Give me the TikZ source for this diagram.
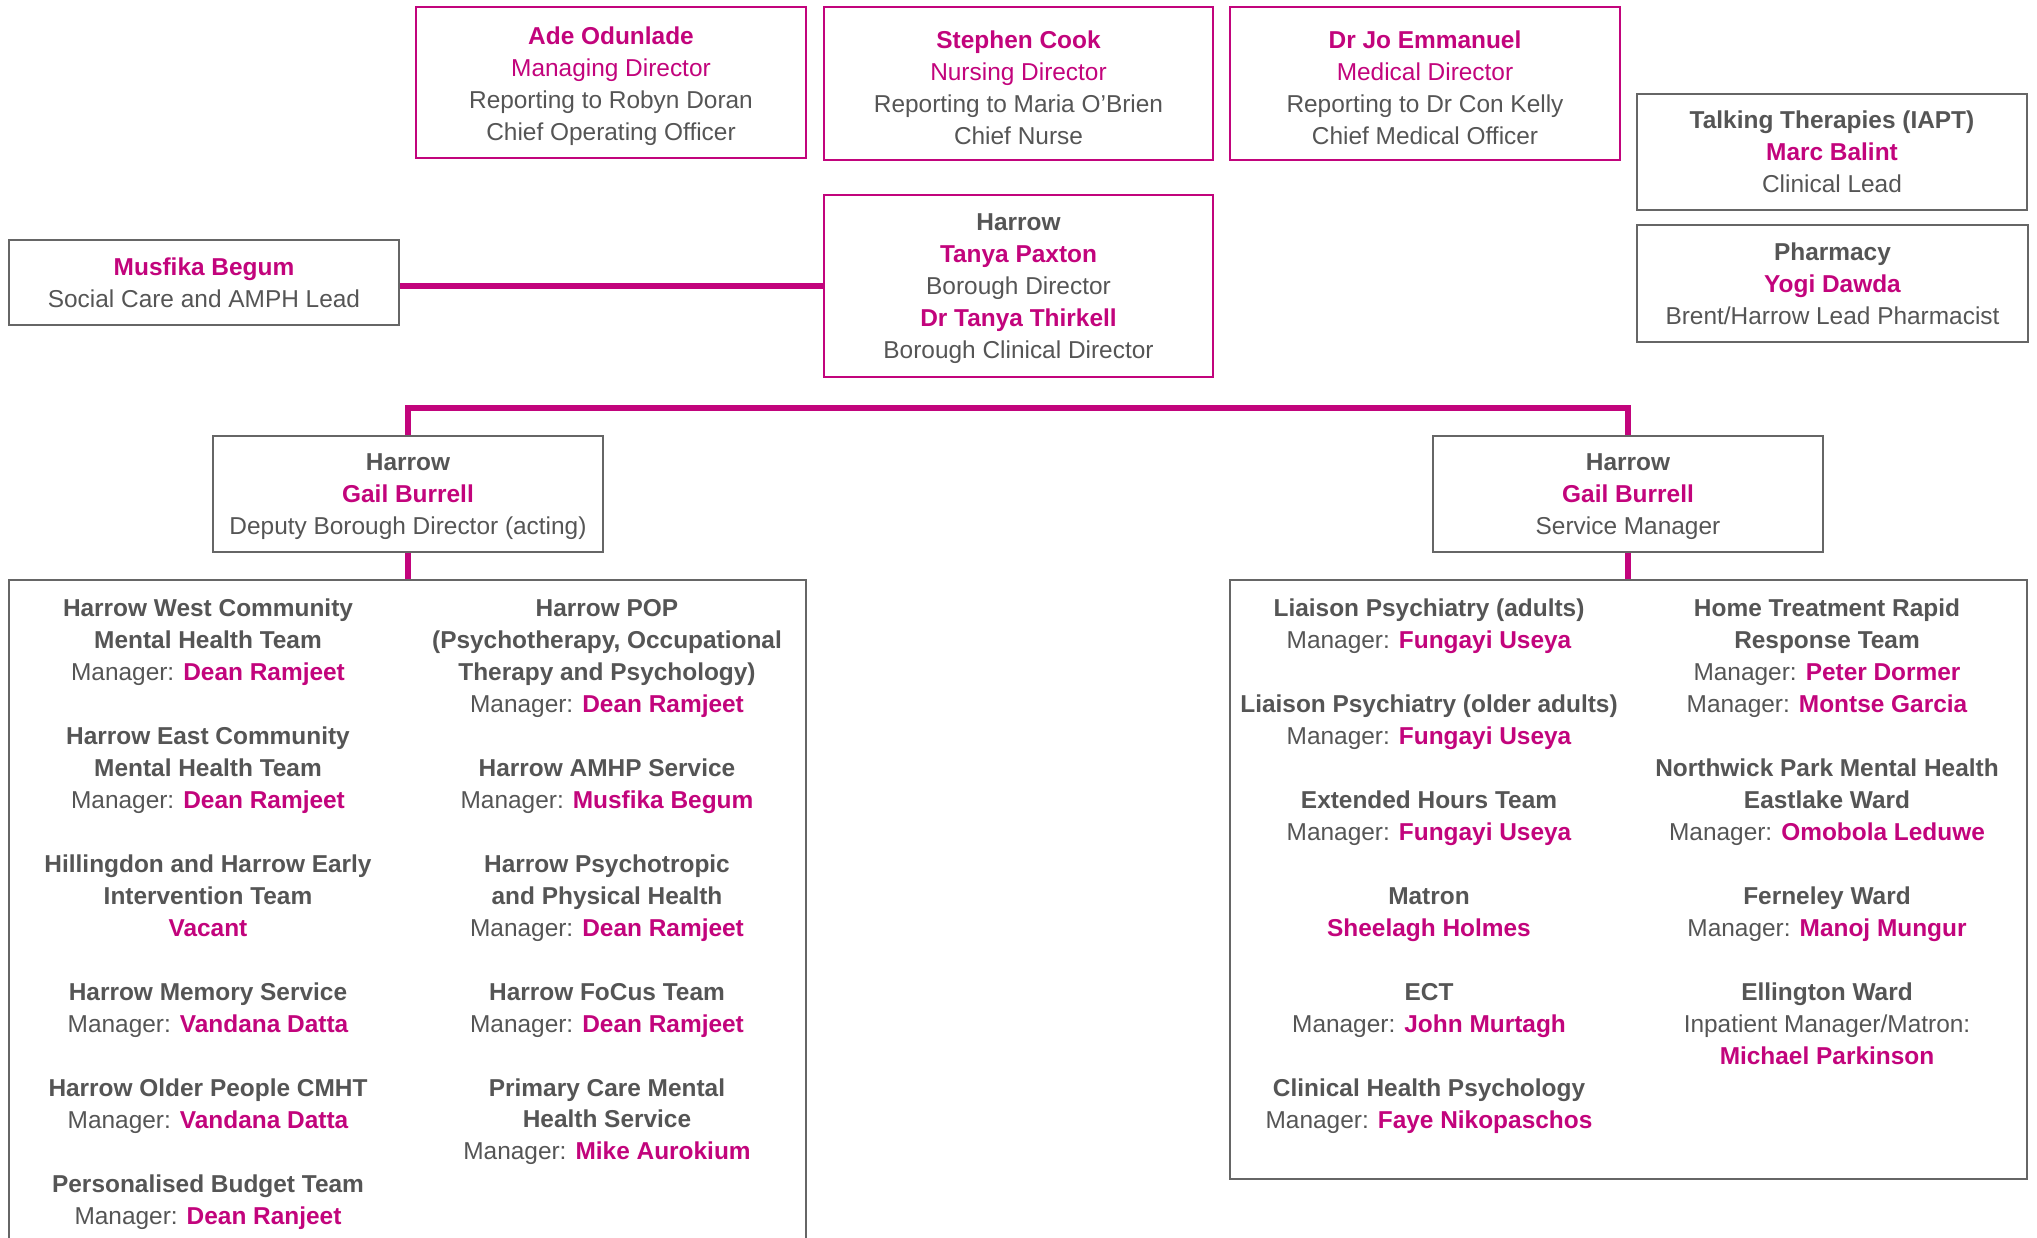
\documentclass[tikz,border=0pt]{standalone}
\usepackage{fontspec}
\setmainfont{Liberation Sans}
\usepackage{tikz}
\definecolor{mag}{HTML}{C2047C}
\definecolor{txtgray}{HTML}{555555}
\definecolor{boxgray}{HTML}{666666}
\def\pname#1{{\bfseries\color{mag}#1}}
\def\phead#1{{\bfseries #1}}
\def\gap{\\[9.1pt]}
\def\lift{\rule[-4.3pt]{0pt}{4.3pt}\\[-3pt]}

\begin{document}
\begin{tikzpicture}[
	every node/.style={font=\fontsize{6.95}{9.1}\selectfont, text=txtgray},
	magbox/.style={draw=mag, line width=0.6pt, align=center, inner sep=0pt},
	graybox/.style={draw=boxgray, line width=0.7pt, align=center, inner sep=0pt},
	conn/.style={draw=mag, line width=1.6pt},
	teamcol/.style={align=center, inner sep=0pt, anchor=north}]
			%%%%% START %%%%%
			\useasboundingbox (0,0) rectangle (20.37,-12.38);
			
			% directors
			\node[magbox, minimum width=3.9cm, minimum height=1.51cm] (ade) at (6.11,-0.825)
			{\lift \pname{Ade Odunlade}\\ {\color{mag}Managing Director}\\ Reporting to Robyn Doran\\ Chief Operating Officer};
			\node[magbox, minimum width=3.89cm, minimum height=1.53cm] (stephen) at (10.185,-0.835)
			{\lift \pname{Stephen Cook}\\ {\color{mag}Nursing Director}\\ Reporting to Maria O’Brien\\ Chief Nurse};
			\node[magbox, minimum width=3.9cm, minimum height=1.53cm] (jo) at (14.25,-0.835)
			{\lift \pname{Dr Jo Emmanuel}\\ {\color{mag}Medical Director}\\ Reporting to Dr Con Kelly\\ Chief Medical Officer};
			
			\node[graybox, minimum width=3.9cm, minimum height=1.16cm] (iapt) at (18.32,-1.52)
			{\phead{Talking Therapies (IAPT)}\\ \pname{Marc Balint}\\ Clinical Lead};
			\node[graybox, minimum width=3.91cm, minimum height=1.17cm] (pharmacy) at (18.325,-2.835)
			{\phead{Pharmacy}\\ \pname{Yogi Dawda}\\ Brent/Harrow Lead Pharmacist};
			
			% borough
			\node[graybox, minimum width=3.9cm, minimum height=0.85cm] (musfika) at (2.04,-2.825)
			{\pname{Musfika Begum}\\ Social Care and AMPH Lead};
			\node[magbox, minimum width=3.89cm, minimum height=1.82cm] (tanya) at (10.185,-2.86)
			{\lift \phead{Harrow}\\ \pname{Tanya Paxton}\\ Borough Director\\ \pname{Dr Tanya Thirkell}\\ Borough Clinical Director};
			\draw[conn] (tanya.west -| musfika.east) -- (tanya.west);
			
			\node[graybox, minimum width=3.9cm, minimum height=1.16cm] (gailL) at (4.08,-4.94)
			{\lift \phead{Harrow}\\ \pname{Gail Burrell}\\ Deputy Borough Director (acting)};
			\node[graybox, minimum width=3.9cm, minimum height=1.16cm] (gailR) at (16.28,-4.94)
			{\lift \phead{Harrow}\\ \pname{Gail Burrell}\\ Service Manager};
			\coordinate (bar) at (10.185,-4.08);
			\draw[conn] (gailL.north) |- (bar) -| (gailR.north);
			
			% teams
			\node[graybox, minimum width=7.97cm, minimum height=6.9cm, anchor=north] (leftteams) at (4.075,-5.79) {};
			\node[graybox, minimum width=7.97cm, minimum height=5.99cm, anchor=north] (rightteams) at (16.285,-5.79) {};
			\draw[conn] (gailL.south) -- (gailL.south |- leftteams.north);
			\draw[conn] (gailR.south) -- (gailR.south |- rightteams.north);
			
			\node[teamcol] (teamsA) at (2.08,-5.985) {
				\phead{Harrow West Community}\\ \phead{Mental Health Team}\\ Manager: \pname{Dean Ramjeet}\gap
				\phead{Harrow East Community}\\ \phead{Mental Health Team}\\ Manager: \pname{Dean Ramjeet}\gap
				\phead{Hillingdon and Harrow Early}\\ \phead{Intervention Team}\\ \pname{Vacant}\gap
				\phead{Harrow Memory Service}\\ Manager: \pname{Vandana Datta}\gap
				\phead{Harrow Older People CMHT}\\ Manager: \pname{Vandana Datta}\gap
				\phead{Personalised Budget Team}\\ Manager: \pname{Dean Ranjeet}};
			\node[teamcol] (teamsB) at (6.07,-5.985) {
				\phead{Harrow POP}\\ \phead{(Psychotherapy, Occupational}\\ \phead{Therapy and Psychology)}\\ Manager: \pname{Dean Ramjeet}\gap
				\phead{Harrow AMHP Service}\\ Manager: \pname{Musfika Begum}\gap
				\phead{Harrow Psychotropic}\\ \phead{and Physical Health}\\ Manager: \pname{Dean Ramjeet}\gap
				\phead{Harrow FoCus Team}\\ Manager: \pname{Dean Ramjeet}\gap
				\phead{Primary Care Mental}\\ \phead{Health Service}\\ Manager: \pname{Mike Aurokium}};
			\node[teamcol] (teamsC) at (14.29,-5.985) {
				\phead{Liaison Psychiatry (adults)}\\ Manager: \pname{Fungayi Useya}\gap
				\phead{Liaison Psychiatry (older adults)}\\ Manager: \pname{Fungayi Useya}\gap
				\phead{Extended Hours Team}\\ Manager: \pname{Fungayi Useya}\gap
				\phead{Matron}\\ \pname{Sheelagh Holmes}\gap
				\phead{ECT}\\ Manager: \pname{John Murtagh}\gap
				\phead{Clinical Health Psychology}\\ Manager: \pname{Faye Nikopaschos}};
			\node[teamcol] (teamsD) at (18.27,-5.985) {
				\phead{Home Treatment Rapid}\\ \phead{Response Team}\\ Manager: \pname{Peter Dormer}\\ Manager: \pname{Montse Garcia}\gap
				\phead{Northwick Park Mental Health}\\ \phead{Eastlake Ward}\\ Manager: \pname{Omobola Leduwe}\gap
				\phead{Ferneley Ward}\\ Manager: \pname{Manoj Mungur}\gap
				\phead{Ellington Ward}\\ Inpatient Manager/Matron:\\ \pname{Michael Parkinson}};
			
			%%%%% END %%%%%
\end{tikzpicture}
\end{document}
